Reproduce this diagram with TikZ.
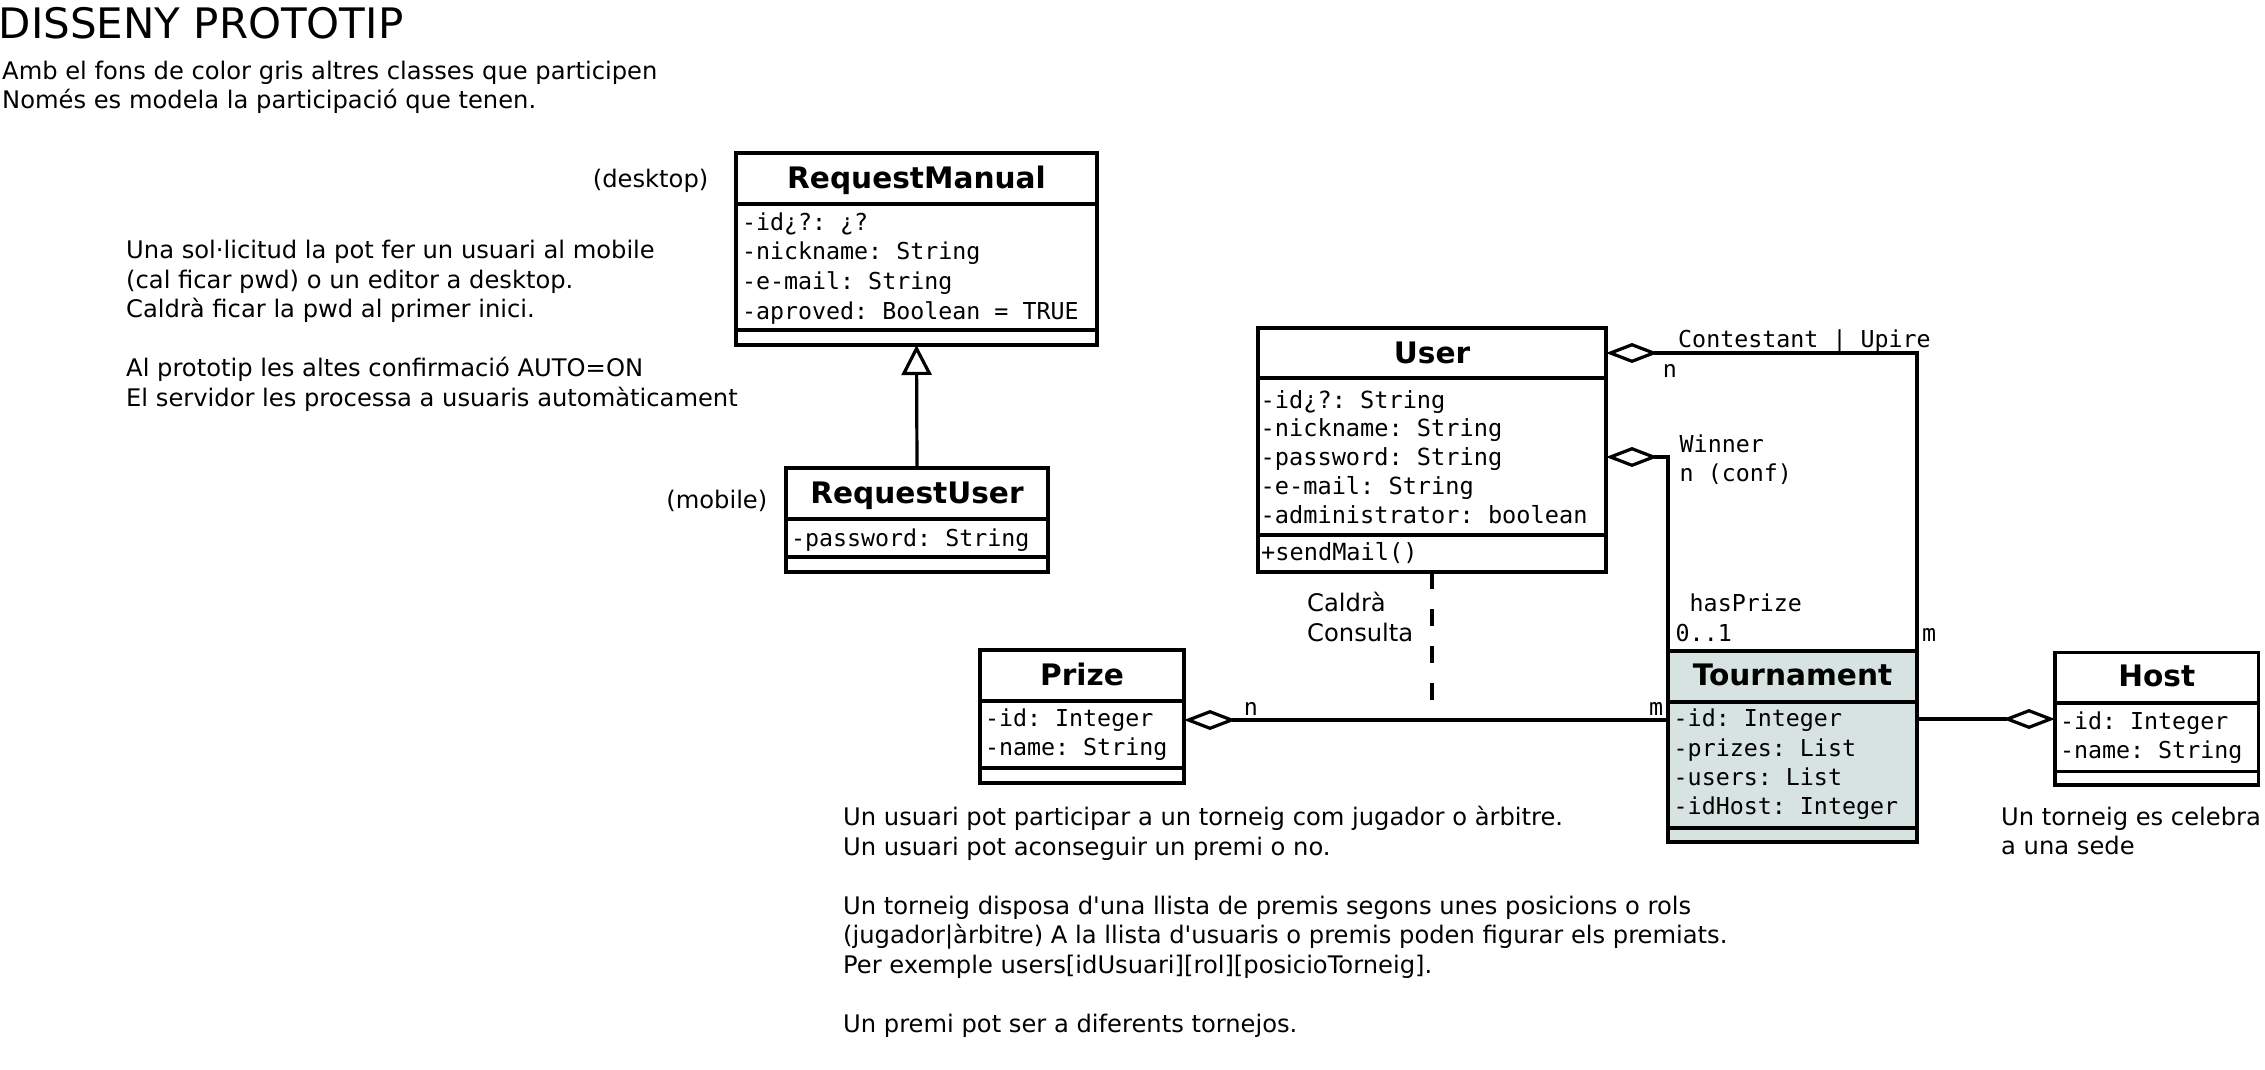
\documentclass[tikz,border=0pt]{standalone}
\usepackage{fontspec}
\setmainfont{DejaVu Sans}[Ligatures=TeXOff]
\newfontfamily\monof{DejaVu Sans Mono}
\usetikzlibrary{arrows.meta,calc}
\definecolor{tourfill}{RGB}{214,227,225}
\frenchspacing
\newcommand{\lns}[1]{\begin{tabular}[t]{@{}l@{}}#1\end{tabular}}
\newcommand{\sepline}[2]{\draw[sepl] ($(#1.north west)+(0,#2)$) -- ($(#1.north east)+(0,#2)$);}
\begin{document}
\begin{tikzpicture}[x=1pt,y=-1pt,
  umlbox/.style={draw, line width=3.2pt, anchor=north west, inner sep=0pt, outer sep=0pt},
  sepl/.style={line width=3.2pt},
  ttl/.style={font=\fontsize{29.6}{34}\selectfont\bfseries, anchor=base, inner sep=0pt},
  attr/.style={font=\monof\fontsize{23.3}{29.4}\selectfont\frenchspacing, anchor=base west, inner sep=0pt},
  note/.style={font=\fontsize{24.2}{29.5}\selectfont\frenchspacing, anchor=base west, inner sep=0pt},
  lbl/.style={font=\monof\fontsize{23.3}{29}\selectfont\frenchspacing, anchor=base west, inner sep=0pt},
  agg/.style={line width=3.2pt, -{Diamond[open, length=52pt, width=20pt]}},
  inh/.style={line width=3.2pt, -{Triangle[open, length=30pt, width=30pt]}},
  dashline/.style={line width=3.2pt, dash pattern=on 17pt off 20pt}]
\useasboundingbox (0,0) rectangle (2265,1069);

% heading texts
\node[anchor=base west, inner sep=0pt, font=\fontsize{42}{48}\selectfont] (title) at (-1.5,38.5) {DISSENY PROTOTIP};
\node[note] (intro) at (2,79) {\lns{Amb el fons de color gris altres classes que participen\\Només es modela la participació que tenen.}};
\node[note] (noteReq) at (126,258.5) {\lns{Una sol·licitud la pot fer un usuari al mobile\\(cal ficar pwd) o un editor a desktop.\\Caldrà ficar la pwd al primer inici.\\ \\Al prototip les altes confirmació AUTO=ON\\El servidor les processa a usuaris automàticament}};
\node[note, anchor=base east] (desk) at (708.5,187) {(desktop)};
\node[note, anchor=base east] (mob) at (767.5,508) {(mobile)};
\node[note] (noteMain) at (843,825.5) {\lns{Un usuari pot participar a un torneig com jugador o àrbitre.\\Un usuari pot aconseguir un premi o no.\\ \\Un torneig disposa d'una llista de premis segons unes posicions o rols\\(jugador|àrbitre) A la llista d'usuaris o premis poden figurar els premiats.\\Per exemple users[idUsuari][rol][posicioTorneig].\\ \\Un premi pot ser a diferents tornejos.}};
\node[note] (noteHost) at (2001,825) {\lns{Un torneig es celebra\\a una sede}};
\node[note] (consulta) at (1307,611.7) {\lns{Caldrà\\Consulta}};

% RequestManual
\node[umlbox, minimum width=361pt, minimum height=192pt] (rm) at (736,153) {};
\sepline{rm}{51}
\sepline{rm}{177}
\node[ttl] (rmT) at ($(rm.north)+(0,35.5)$) {RequestManual};
\node[attr, font=\monof\fontsize{23.3}{29.7}\selectfont] (rmA) at (741.8,230) {\lns{-id¿?: ¿?\\-nickname: String\\-e-mail: String\\-aproved: Boolean = TRUE}};

% RequestUser
\node[umlbox, minimum width=262pt, minimum height=104pt] (ru) at (786,468) {};
\sepline{ru}{51}
\sepline{ru}{89}
\node[ttl] (ruT) at ($(ru.north)+(0,35)$) {RequestUser};
\node[attr] (ruA) at (790.8,546.7) {-password: String};

% User
\node[umlbox, minimum width=348pt, minimum height=244pt] (user) at (1258,328) {};
\sepline{user}{50}
\sepline{user}{207}
\node[ttl] (userT) at ($(user.north)+(0,35.5)$) {User};
\node[attr, font=\monof\fontsize{23.6}{28.8}\selectfont] (userA) at (1260.5,408) {\lns{-id¿?: String\\-nickname: String\\-password: String\\-e-mail: String\\-administrator: boolean}};
\node[attr, font=\monof\fontsize{23.6}{28.8}\selectfont] (userM) at (1261,560) {+sendMail()};

% Prize
\node[umlbox, minimum width=204pt, minimum height=133pt] (prize) at (980,650) {};
\sepline{prize}{51}
\sepline{prize}{118}
\node[ttl] (prizeT) at ($(prize.north)+(0,35)$) {Prize};
\node[attr, font=\monof\fontsize{23.3}{28.4}\selectfont] (prizeA) at (984.8,726.7) {\lns{-id: Integer\\-name: String}};

% Tournament
\node[umlbox, fill=tourfill, minimum width=249pt, minimum height=191pt] (tour) at (1668,651) {};
\sepline{tour}{51}
\sepline{tour}{177}
\node[ttl] (tourT) at ($(tour.north)+(0,34)$) {Tournament};
\node[attr] (tourA) at (1673.5,726.7) {\lns{-id: Integer\\-prizes: List\\-users: List\\-idHost: Integer}};

% Host
\node[umlbox, minimum width=203.5pt, minimum height=132.5pt] (host) at (2055,652.5) {};
\sepline{host}{50.5}
\sepline{host}{119}
\node[ttl] (hostT) at ($(host.north)+(0,34)$) {Host};
\node[attr] (hostA) at (2059.8,729) {\lns{-id: Integer\\-name: String}};

% connectors
\draw[inh] (ru.north) -- (rm.south);
\coordinate (pzA) at ($(prize.north east)+(0,70)$);
\draw[agg] (tour.west |- pzA) -- (pzA);
\draw[dashline] (user.south) -- (user.south |- pzA);
\coordinate (hsA) at ($(host.north west)+(0,66.5)$);
\draw[agg] (tour.east |- hsA) -- (hsA);
\draw[agg] (tour.north east) |- ($(user.north east)+(0,25)$);
\draw[agg] (tour.north west) |- ($(user.north east)+(0,129)$);

% connector labels
\node[lbl] (lCont) at (1678,347) {Contestant | Upire};
\node[lbl] (lContN) at (1662.6,377) {n};
\node[lbl] (lWin) at (1679.5,452) {\lns{Winner\\n (conf)}};
\node[lbl] (lHas) at (1689.5,611.7) {hasPrize};
\node[lbl] (lZero) at (1675.5,641.7) {0..1};
\node[lbl] (lM1) at (1922,641.7) {m};
\node[lbl] (lPn) at (1243.6,715) {n};
\node[lbl] (lM2) at (1649,715) {m};
\end{tikzpicture}
\end{document}
